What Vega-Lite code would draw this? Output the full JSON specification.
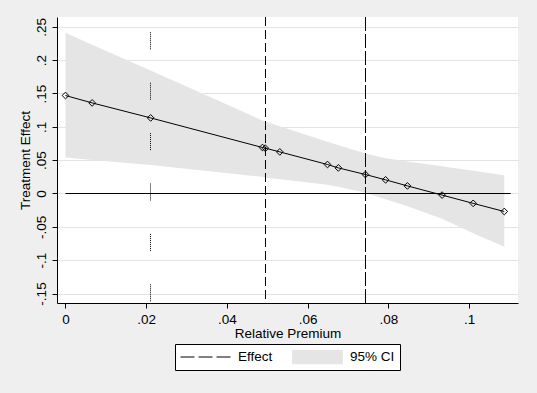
{
  "$schema": "https://vega.github.io/schema/vega-lite/v6.json",
  "width": 461,
  "height": 286,
  "autosize": {"type": "none"},
  "padding": {"left": 57, "top": 17, "right": 19, "bottom": 90},
  "background": "#EFEFEF",
  "datasets": {
    "curve": [
      {"x": 0, "effect": 0.147, "lo": 0.054, "hi": 0.241},
      {"x": 0.0066, "effect": 0.1359, "lo": 0.0504, "hi": 0.223},
      {"x": 0.0211, "effect": 0.1134, "lo": 0.0429, "hi": 0.1845},
      {"x": 0.0488, "effect": 0.069, "lo": 0.025, "hi": 0.1095},
      {"x": 0.0495, "effect": 0.068, "lo": 0.024, "hi": 0.108},
      {"x": 0.0531, "effect": 0.0624, "lo": 0.0215, "hi": 0.101},
      {"x": 0.0649, "effect": 0.0435, "lo": 0.0132, "hi": 0.0777},
      {"x": 0.0676, "effect": 0.0384, "lo": 0.0102, "hi": 0.0724},
      {"x": 0.0743, "effect": 0.0285, "lo": 0.001, "hi": 0.06},
      {"x": 0.0793, "effect": 0.0205, "lo": -0.0086, "hi": 0.0527},
      {"x": 0.0847, "effect": 0.0114, "lo": -0.019, "hi": 0.048},
      {"x": 0.0933, "effect": -0.0024, "lo": -0.038, "hi": 0.0408},
      {"x": 0.101, "effect": -0.0148, "lo": -0.0595, "hi": 0.034},
      {"x": 0.1087, "effect": -0.027, "lo": -0.08, "hi": 0.0275}
    ]
  },
  "layer": [
    {
      "data": {"name": "curve"},
      "mark": {"type": "area", "opacity": 1},
      "encoding": {
        "x": {"field": "x", "type": "quantitative",
          "scale": {"domain": [-0.0021, 0.1121], "nice": false, "zero": false},
          "axis": {"values": [0, 0.02, 0.04, 0.06, 0.08, 0.1], "grid": false,
            "labelExpr": "replace(replace(format(datum.value, '.2~f'), '0.', '.'), '\u2212', '-')",
            "title": "Relative Premium", "labelPadding": 4, "titlePadding": 1, "labelFlush": false, "labelOverlap": false}},
        "y": {"field": "hi", "type": "quantitative",
          "scale": {"domain": [-0.16425, 0.26475], "nice": false, "zero": false},
          "axis": {"values": [-0.15, -0.1, -0.05, 0, 0.05, 0.1, 0.15, 0.2, 0.25], "grid": true,
            "labelExpr": "replace(replace(format(datum.value, '.2~f'), '0.', '.'), '\u2212', '-')",
            "labelAngle": 270, "labelAlign": "center", "labelBaseline": "bottom", "labelPadding": 4,
            "title": "Treatment Effect", "titlePadding": 2, "labelFlush": false, "labelOverlap": false, "labelBound": false}},
        "y2": {"field": "lo"},
        "color": {"datum": "95% CI", "type": "nominal",
          "scale": {"domain": ["Effect", "95% CI"], "range": ["black", "#E5E5E5"]},
          "legend": {
            "title": null, "orient": "none", "legendX": 118, "legendY": 327, "direction": "horizontal",
            "fillColor": "white", "strokeColor": "black", "padding": 5,
            "labelFont": "Liberation Sans", "labelFontSize": 13.5, "labelColor": "black",
            "symbolSize": 2500, "symbolStrokeWidth": 1, "clipHeight": 16,
            "columnPadding": 19, "labelOffset": 7,
            "encode": {"symbols": {"update": {
              "shape": {"signal": "datum.value === 'Effect' ? 'stroke' : 'M-1,-0.27H1V0.27H-1Z'"},
              "strokeDash": {"signal": "datum.value === 'Effect' ? [14,4] : [1,0]"},
              "stroke": {"signal": "datum.value === 'Effect' ? 'black' : 'transparent'"},
              "fill": {"signal": "datum.value === 'Effect' ? 'transparent' : '#E5E5E5'"},
              "opacity": {"value": 1}
            }}}
          }}
      }
    },
    {
      "data": {"values": [{"x0": 0, "x1": 0.1103, "y": 0}]},
      "mark": {"type": "rule", "color": "black", "strokeWidth": 1},
      "encoding": {
        "x": {"field": "x0", "type": "quantitative"},
        "x2": {"field": "x1"},
        "y": {"field": "y", "type": "quantitative",
          "axis": {"values": [-0.15, -0.1, -0.05, 0, 0.05, 0.1, 0.15, 0.2, 0.25], "grid": true,
            "labelExpr": "replace(replace(format(datum.value, '.2~f'), '0.', '.'), '\u2212', '-')",
            "labelAngle": 270, "labelAlign": "center", "labelBaseline": "bottom", "labelPadding": 4,
            "title": "Treatment Effect", "titlePadding": 2, "labelFlush": false, "labelOverlap": false, "labelBound": false}}
      }
    },
    {
      "data": {"values": [{"x": 0.02106, "top": 0.2418, "bottom": -0.1645}]},
      "mark": {"type": "rule", "color": "black", "strokeWidth": 1,
        "strokeDash": [1, 1, 1, 1, 1, 1, 1, 1, 1, 1, 1, 1, 1, 1, 1, 1, 1, 33.4]},
      "encoding": {
        "x": {"field": "x", "type": "quantitative"},
        "y": {"field": "top", "type": "quantitative",
          "axis": {"values": [-0.15, -0.1, -0.05, 0, 0.05, 0.1, 0.15, 0.2, 0.25], "grid": true,
            "labelExpr": "replace(replace(format(datum.value, '.2~f'), '0.', '.'), '\u2212', '-')",
            "labelAngle": 270, "labelAlign": "center", "labelBaseline": "bottom", "labelPadding": 4,
            "title": "Treatment Effect", "titlePadding": 2, "labelFlush": false, "labelOverlap": false, "labelBound": false}},
        "y2": {"field": "bottom"}
      }
    },
    {
      "data": {"values": [{"x": 0.04955}]},
      "mark": {"type": "rule", "strokeWidth": 1, "strokeDash": [9, 4]},
      "encoding": {
        "x": {"field": "x", "type": "quantitative"},
        "color": {"datum": "Effect", "type": "nominal",
          "legend": {
            "title": null, "orient": "none", "legendX": 118, "legendY": 327, "direction": "horizontal",
            "fillColor": "white", "strokeColor": "black", "padding": 5,
            "labelFont": "Liberation Sans", "labelFontSize": 13.5, "labelColor": "black",
            "symbolSize": 2500, "symbolStrokeWidth": 1, "clipHeight": 16,
            "columnPadding": 19, "labelOffset": 7,
            "encode": {"symbols": {"update": {
              "shape": {"signal": "datum.value === 'Effect' ? 'stroke' : 'M-1,-0.27H1V0.27H-1Z'"},
              "strokeDash": {"signal": "datum.value === 'Effect' ? [14,4] : [1,0]"},
              "stroke": {"signal": "datum.value === 'Effect' ? 'black' : 'transparent'"},
              "fill": {"signal": "datum.value === 'Effect' ? 'transparent' : '#E5E5E5'"},
              "opacity": {"value": 1}
            }}}
          }}
      }
    },
    {
      "data": {"values": [{"x": 0.07432}]},
      "mark": {"type": "rule", "strokeWidth": 1, "strokeDash": [14, 3]},
      "encoding": {
        "x": {"field": "x", "type": "quantitative"},
        "color": {"datum": "Effect", "type": "nominal",
          "legend": {
            "title": null, "orient": "none", "legendX": 118, "legendY": 327, "direction": "horizontal",
            "fillColor": "white", "strokeColor": "black", "padding": 5,
            "labelFont": "Liberation Sans", "labelFontSize": 13.5, "labelColor": "black",
            "symbolSize": 2500, "symbolStrokeWidth": 1, "clipHeight": 16,
            "columnPadding": 19, "labelOffset": 7,
            "encode": {"symbols": {"update": {
              "shape": {"signal": "datum.value === 'Effect' ? 'stroke' : 'M-1,-0.27H1V0.27H-1Z'"},
              "strokeDash": {"signal": "datum.value === 'Effect' ? [14,4] : [1,0]"},
              "stroke": {"signal": "datum.value === 'Effect' ? 'black' : 'transparent'"},
              "fill": {"signal": "datum.value === 'Effect' ? 'transparent' : '#E5E5E5'"},
              "opacity": {"value": 1}
            }}}
          }}
      }
    },
    {
      "data": {"name": "curve"},
      "mark": {"type": "line", "color": "black", "strokeWidth": 1,
        "point": {"shape": "diamond", "filled": false, "size": 45, "color": "black", "strokeWidth": 1}},
      "encoding": {
        "x": {"field": "x", "type": "quantitative"},
        "y": {"field": "effect", "type": "quantitative",
          "axis": {"values": [-0.15, -0.1, -0.05, 0, 0.05, 0.1, 0.15, 0.2, 0.25], "grid": true,
            "labelExpr": "replace(replace(format(datum.value, '.2~f'), '0.', '.'), '\u2212', '-')",
            "labelAngle": 270, "labelAlign": "center", "labelBaseline": "bottom", "labelPadding": 4,
            "title": "Treatment Effect", "titlePadding": 2, "labelFlush": false, "labelOverlap": false, "labelBound": false}}
      }
    }
  ],
  "config": {
    "font": "Liberation Sans",
    "view": {"fill": "white", "stroke": null},
    "axis": {
      "domainColor": "black", "tickColor": "black", "labelColor": "black", "titleColor": "black",
      "labelFont": "Liberation Sans", "titleFont": "Liberation Sans",
      "labelFontSize": 13.5, "titleFontSize": 13.5, "titleFontWeight": "normal",
      "tickSize": 5, "domainWidth": 1, "tickWidth": 1,
      "gridColor": "#E2E2E2", "gridWidth": 1, "labelOverlap": false
    },
    "axisY": {"labelOverlap": false},
    "axisLeft": {"labelOverlap": false},
    "legend": {"cornerRadius": 0, "strokeWidth": 1}
  }
}
